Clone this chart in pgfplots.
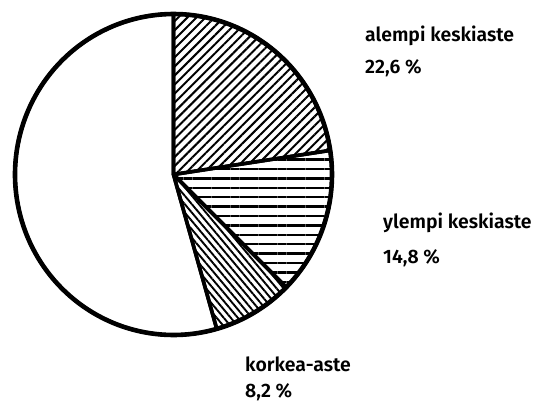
\documentclass[border=0pt]{standalone}
\usepackage{pgfplots}
\pgfplotsset{compat=1.18}
\usepackage{pgfplotstable}
\usetikzlibrary{patterns.meta}
\usepackage{fontspec}
\setmainfont{Fira Sans}[UprightFont={* SemiBold}]

\pgfplotstableread{
share name
22.6 alempi
14.8 ylempi
8.2 korkea
54.4 muu
}\pietable

\begin{document}
\begin{tikzpicture}
\pgfplotstablegetelem{0}{share}\of\pietable \let\vA\pgfplotsretval
\pgfplotstablegetelem{1}{share}\of\pietable \let\vB\pgfplotsretval
\pgfplotstablegetelem{2}{share}\of\pietable \let\vC\pgfplotsretval
\pgfplotstablegetelem{3}{share}\of\pietable \let\vD\pgfplotsretval
\pgfmathsetmacro\aA{90-3.6*\vA}
\pgfmathsetmacro\aB{\aA-3.6*\vB}
\pgfmathsetmacro\aC{\aB-3.6*\vC}
\pgfmathsetmacro\aD{\aC-3.6*\vD}
\def\cx{173.5}\def\cy{229.5}\def\rx{158.5}\def\ry{160.5}
\begin{axis}[x=1bp, y=1bp, xmin=0, xmax=544, ymin=0, ymax=404,
  hide axis, clip=false, scale only axis, name=pie,
  every axis plot/.append style={line join=round, samples=90}]
% remaining (blank)
\addplot[draw=black, line width=3.6bp, fill=white, domain=\aD:\aC]
  ({\cx+\rx*cos(x)},{\cy+\ry*sin(x)}) -- (axis cs:\cx,\cy) -- cycle;
% alempi keskiaste
\addplot[draw=black, line width=3.6bp, pattern={Lines[angle=45,distance=6.4bp,line width=2bp]}, domain=\aA:90]
  ({\cx+\rx*cos(x)},{\cy+\ry*sin(x)}) -- (axis cs:\cx,\cy) -- cycle;
% ylempi keskiaste
\addplot[draw=black, line width=3.6bp, pattern={Lines[angle=0,distance=9.4bp,line width=2.3bp]}, domain=\aB:\aA]
  ({\cx+\rx*cos(x)},{\cy+\ry*sin(x)}) -- (axis cs:\cx,\cy) -- cycle;
% korkea-aste
\addplot[draw=black, line width=3.6bp, pattern={Lines[angle=-50,distance=5.4bp,line width=1.9bp]}, domain=\aC:\aB]
  ({\cx+\rx*cos(x)},{\cy+\ry*sin(x)}) -- (axis cs:\cx,\cy) -- cycle;
% outline
\addplot[draw=black, line width=4.6bp, domain=0:360, samples=180]
  ({\cx+\rx*cos(x)},{\cy+\ry*sin(x)}) -- cycle;

\begin{scope}[every node/.style={anchor=base west, inner sep=0pt, font=\fontsize{19.5}{22}\selectfont}]
\node at (axis cs:365,363) {alempi keskiaste};
\node at (axis cs:365,331) {22,6~\%};
\node at (axis cs:383,176) {ylempi keskiaste};
\node at (axis cs:383,141) {14,8~\%};
\node at (axis cs:245,33) {korkea-aste};
\node at (axis cs:245,7) {8,2~\%};
\end{scope}
\end{axis}
\pgfresetboundingbox
\path[use as bounding box] (pie.south west) rectangle (pie.north east);
\end{tikzpicture}
\end{document}
